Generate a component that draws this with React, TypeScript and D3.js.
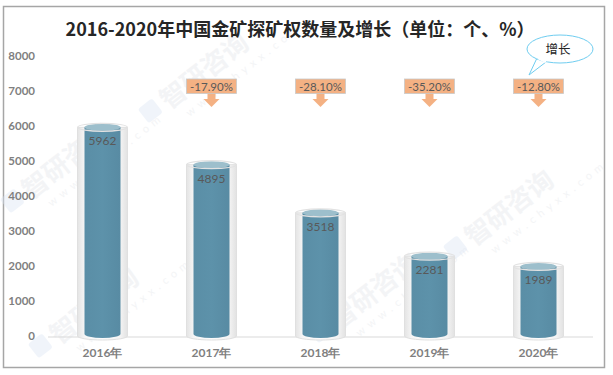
import React from "react";
import * as d3 from "d3";

const categories = ["2016年", "2017年", "2018年", "2019年", "2020年"];
const values = [5962, 4895, 3518, 2281, 1989];
const growth = [null, "-17.90%", "-28.10%", "-35.20%", "-12.80%"];
const yTicks = [0, 1000, 2000, 3000, 4000, 5000, 6000, 7000, 8000];
const title = "2016-2020年中国金矿探矿权数量及增长（单位：个、%）";

const W = 613;
const H = 375;

const watermarks = [
  { x: 150, y: 125 },
  { x: 12, y: 215 },
  { x: 40, y: 360 },
  { x: 320, y: 345 },
  { x: 455, y: 262 },
];

export default function App() {
  const x = d3.scaleBand<string>().domain(categories).range([48, 593]).paddingInner(0).paddingOuter(0);
  const y = d3.scaleLinear().domain([0, 8000]).range([336, 56]);
  const base = y(0);
  const innerW = 36;
  const outerW = 50;
  const ry = 4;
  const numFont = "Lato, 'Open Sans', sans-serif";
  const cjk = "'Noto Sans CJK SC', sans-serif";

  return (
    <svg width={W} height={H} style={{ position: "absolute", left: 0, top: 0, background: "#fff" }}>
      <defs>
        <linearGradient id="glass" x1="0" x2="1" y1="0" y2="0">
          <stop offset="0" stopColor="#e4e4e4" />
          <stop offset="0.15" stopColor="#f6f6f6" />
          <stop offset="0.5" stopColor="#fbfbfb" />
          <stop offset="0.85" stopColor="#f4f4f4" />
          <stop offset="1" stopColor="#e2e2e2" />
        </linearGradient>
        <linearGradient id="barg" x1="0" x2="1" y1="0" y2="0">
          <stop offset="0" stopColor="#5a8ea6" />
          <stop offset="0.5" stopColor="#5d92aa" />
          <stop offset="1" stopColor="#588ba3" />
        </linearGradient>
      </defs>
      <rect x={0} y={0} width={W} height={H} fill="#fff" />
      <rect x={3.5} y={6.5} width={601} height={361} fill="none" stroke="#a6a6a6" strokeWidth={1.5} />

      {/* watermarks */}
      {watermarks.map((w, i) => (
        <g key={"wm" + i} transform={`translate(${w.x},${w.y}) rotate(-38)`} opacity={0.4}>
          <rect x={0} y={-20} width={18} height={18} rx={3} fill="#dbe6f5" />
          <text x={24} y={0} fontSize={26} fontWeight="bold" fill="#e3e6ea" fontFamily={cjk}>
            智研咨询
          </text>
          <text x={36} y={18} fontSize={11} fill="#e3e6ea" fontFamily={numFont} letterSpacing={5}>
            www.chyxx.com
          </text>
        </g>
      ))}

      <text x={300} y={36} textAnchor="middle" fontSize={18} fontWeight="bold" fill="#262626" fontFamily={cjk}>
        {title}
      </text>

      {yTicks.map((t) => (
        <text key={t} x={35} y={y(t) + 4} textAnchor="end" fontSize={11.5} fontWeight="bold" fill="#7f7f7f" fontFamily={numFont}>
          {t}
        </text>
      ))}

      <line x1={48} x2={593} y1={base + 1} y2={base + 1} stroke="#d9d9d9" strokeWidth={1} />

      {categories.map((c, i) => {
        const cx = (x(c) as number) + x.bandwidth() / 2;
        const top = y(values[i]);
        const ox = cx - outerW / 2;
        const ix = cx - innerW / 2;
        return (
          <g key={c}>
            <path
              d={`M${ox},${top} L${ox},${base} A${outerW / 2},${ry} 0 0 0 ${ox + outerW},${base} L${ox + outerW},${top} Z`}
              fill="url(#glass)"
              stroke="#e0e0e0"
              strokeWidth={1}
            />
            <path
              d={`M${ix},${top} L${ix},${base - 2} A${innerW / 2},${ry} 0 0 0 ${ix + innerW},${base - 2} L${ix + innerW},${top} Z`}
              fill="url(#barg)"
            />
            <ellipse cx={cx} cy={top} rx={innerW / 2} ry={ry - 0.5} fill="#9dbfcc" />
            <ellipse cx={cx} cy={top} rx={outerW / 2} ry={ry} fill="none" stroke="#e2e2e2" strokeWidth={1.2} />
            <text x={cx} y={top + 18} textAnchor="middle" fontSize={12} fill="#595959" fontFamily={numFont}>
              {values[i]}
            </text>
            <text x={cx} y={357} textAnchor="middle" fontSize={12} fontWeight="bold" fill="#7f7f7f" fontFamily={numFont}>
              {c}
            </text>
            {growth[i] && (
              <g>
                <path
                  d={`M${cx - 25},79 L${cx + 25},79 L${cx + 25},93.5 L${cx + 4},93.5 L${cx + 4},99 L${cx + 8},99 L${cx},107 L${cx - 8},99 L${cx - 4},99 L${cx - 4},93.5 L${cx - 25},93.5 Z`}
                  fill="#f4b183"
                />
                <rect x={cx - 25} y={79} width={50} height={14.5} fill="none" stroke="#c9c9c9" strokeWidth={0.8} />
                <text x={cx} y={90.5} textAnchor="middle" fontSize={11.5} fill="#595959" fontFamily={numFont}>
                  {growth[i]}
                </text>
              </g>
            )}
          </g>
        );
      })}

      {/* speech bubble */}
      <g>
        <path d="M537,58 L529,75 L546,62" fill="#fff" stroke="#6fcdf0" strokeWidth={1} />
        <ellipse cx={560} cy={49} rx={33} ry={14} fill="#fff" stroke="#6fcdf0" strokeWidth={1} />
        <path d="M538.5,58.5 L546,62" stroke="#fff" strokeWidth={2} />
        <text x={558} y={53.5} textAnchor="middle" fontSize={12.5} fill="#262626" fontFamily={cjk}>
          增长
        </text>
      </g>
    </svg>
  );
}
